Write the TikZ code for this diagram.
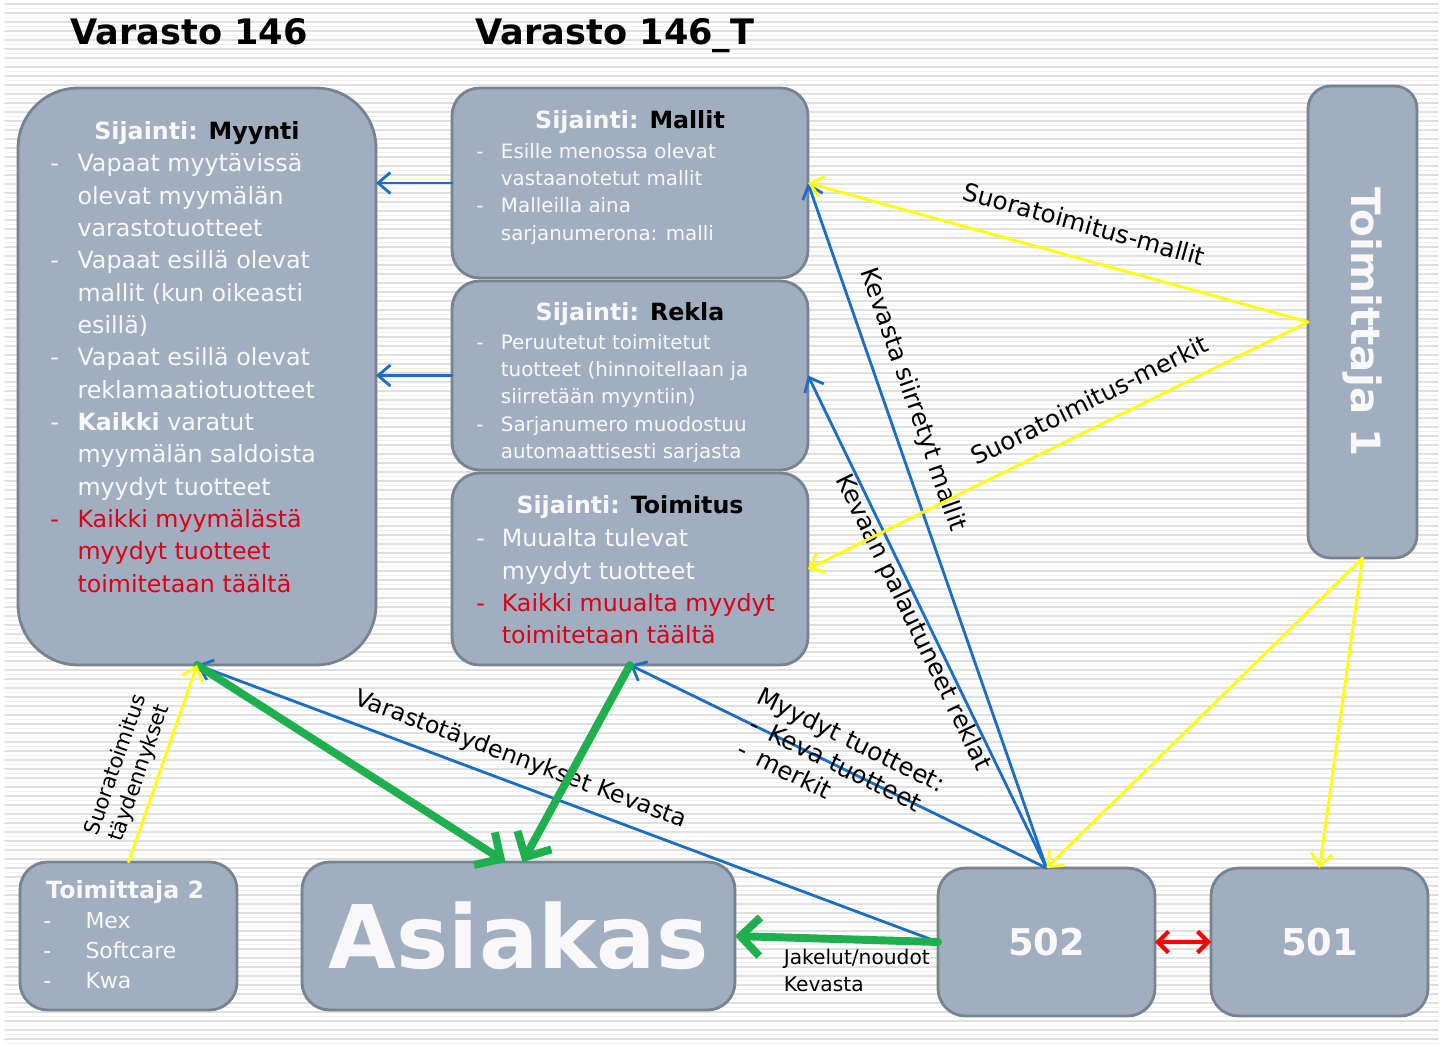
\documentclass[tikz,border=0pt]{standalone}
\usepackage{fontspec}
\setmainfont{DejaVu Sans}
\usetikzlibrary{arrows.meta,positioning}

\definecolor{boxfill}{RGB}{160,174,192}
\definecolor{boxline}{RGB}{120,131,144}
\definecolor{txtwhite}{RGB}{248,248,250}
\definecolor{txtred}{RGB}{222,0,24}
\definecolor{flowblue}{RGB}{28,110,196}
\definecolor{flowgreen}{RGB}{30,176,78}
\definecolor{flowyellow}{RGB}{255,255,0}
\definecolor{flowred}{RGB}{255,0,0}
\definecolor{stripedark}{RGB}{224,224,224}
\definecolor{stripelight}{RGB}{240,240,240}

% hanging dash for the lists in the boxes
\newcommand{\ldash}[1]{\makebox[#1][l]{-}}
\newcommand{\lgap}[1]{\hspace*{#1}}

\tikzset{
  box/.style={draw=boxline, fill=boxfill, line width=1.6pt, rounded corners=0.55cm,
    inner sep=0pt, outer sep=0pt, text=txtwhite},
  hdr/.style={text=txtwhite, font=\fontsize{13.5}{16}\selectfont\bfseries},
  bigtxt/.style={text=txtwhite, font=\fontsize{13.5}{18.4}\selectfont, align=left,
    inner sep=0pt, anchor=north west},
  smalltxt/.style={text=txtwhite, font=\fontsize{11.3}{15.5}\selectfont, align=left,
    inner sep=0pt, anchor=north west},
  lbl/.style={font=\fontsize{14}{16}\selectfont, inner sep=0pt, sloped},
  bluearrow/.style={draw=flowblue, line width=1.6pt, -{Straight Barb[length=7pt,width=12pt]}},
  greenarrow/.style={draw=flowgreen, line width=4.5pt, -{Straight Barb[length=11pt,width=22pt]}},
  yellowarrow/.style={draw=flowyellow, line width=1.6pt, -{Straight Barb[length=7pt,width=12pt]}},
  redarrow/.style={draw=flowred, line width=2.4pt,
    {Straight Barb[length=6pt,width=12pt]}-{Straight Barb[length=6pt,width=12pt]}},
}

\begin{document}
\begin{tikzpicture}[x=0.02cm,y=-0.02cm,line cap=round,line join=round]
\useasboundingbox (0,0) rectangle (1443,1045);

% striped background
\fill[white] (0,0) rectangle (1443,1045);
\foreach \s in {4,13,...,1040} {
  \draw[stripedark, line width=0.9pt] (5,\s) -- (1438,\s);
  \draw[stripelight, line width=0.7pt] (5,\s+4.5) -- (1438,\s+4.5);
}

% titles
\node[font=\fontsize{20}{24}\selectfont\bfseries, anchor=base] (vara) at (189,44) {Varasto 146};
\node[font=\fontsize{20}{24}\selectfont\bfseries, anchor=base] (varaT) at (615,44) {Varasto 146\_T};

% boxes
\node[box, rounded corners=1.2cm, minimum width=7.16cm, minimum height=11.54cm] (myynti) at (197,376.5) {};
\node[box, minimum width=7.12cm, minimum height=3.8cm] (mallit) at (630,183) {};
\node[box, minimum width=7.12cm, minimum height=3.78cm] (rekla) at (630,375.5) {};
\node[box, minimum width=7.12cm, minimum height=3.84cm] (toimitus) at (630,569) {};
\node[box, rounded corners=0.45cm, minimum width=2.18cm, minimum height=9.44cm] (toim1) at (1362.5,322) {};
\node[box, minimum width=4.34cm, minimum height=2.96cm] (toim2) at (128.5,936) {};
\node[box, minimum width=8.66cm, minimum height=2.96cm] (asiakas) at (518.5,936) {\fontsize{50}{60}\selectfont\bfseries Asiakas};
\node[box, minimum width=4.34cm, minimum height=2.96cm] (n502) at (1046.5,942) {\fontsize{21}{24}\selectfont\bfseries 502};
\node[box, minimum width=4.34cm, minimum height=2.96cm] (n501) at (1319.5,942) {\fontsize{21}{24}\selectfont\bfseries 501};

% box texts
\node[text=txtwhite, font=\fontsize{23}{26}\selectfont\bfseries, rotate=-90] (toim1T) at (toim1) {Toimittaja 1};

\node[hdr] (myyntiH) at (197,133) {Sijainti: \textcolor{black}{Myynti}};
\node[bigtxt] (myyntiB) at (50,153.5) {\ldash{15.5pt}Vapaat myytävissä\\
  \lgap{15.5pt}olevat myymälän\\
  \lgap{15.5pt}varastotuotteet\\
  \ldash{15.5pt}Vapaat esillä olevat\\
  \lgap{15.5pt}mallit (kun oikeasti\\
  \lgap{15.5pt}esillä)\\
  \ldash{15.5pt}Vapaat esillä olevat\\
  \lgap{15.5pt}reklamaatiotuotteet\\
  \ldash{15.5pt}\textbf{Kaikki} varatut\\
  \lgap{15.5pt}myymälän saldoista\\
  \lgap{15.5pt}myydyt tuotteet\\
  \textcolor{txtred}{\ldash{15.5pt}Kaikki myymälästä}\\
  \textcolor{txtred}{\lgap{15.5pt}myydyt tuotteet}\\
  \textcolor{txtred}{\lgap{15.5pt}toimitetaan täältä}};

\node[hdr] (mallitH) at (630,122) {Sijainti: \textcolor{black}{Mallit}};
\node[smalltxt] (mallitB) at (476,143) {\ldash{14pt}Esille menossa olevat\\
  \lgap{14pt}vastaanotetut mallit\\
  \ldash{14pt}Malleilla aina\\
  \lgap{14pt}sarjanumerona: malli};

\node[hdr] (reklaH) at (630,314) {Sijainti: \textcolor{black}{Rekla}};
\node[smalltxt] (reklaB) at (476,334) {\ldash{14pt}Peruutetut toimitetut\\
  \lgap{14pt}tuotteet (hinnoitellaan ja\\
  \lgap{14pt}siirretään myyntiin)\\
  \ldash{14pt}Sarjanumero muodostuu\\
  \lgap{14pt}automaattisesti sarjasta};

\node[hdr] (toimitusH) at (630,507) {Sijainti: \textcolor{black}{Toimitus}};
\node[bigtxt] (toimitusB) at (476,528.5) {\ldash{14.5pt}Muualta tulevat\\
  \lgap{14.5pt}myydyt tuotteet\\
  \textcolor{txtred}{\ldash{14.5pt}Kaikki muualta myydyt}\\
  \textcolor{txtred}{\lgap{14.5pt}toimitetaan täältä}};

\node[hdr, anchor=west] (toim2H) at (40,892) {Toimittaja 2};
\node[text=txtwhite, font=\fontsize{12.5}{17}\selectfont, align=left, inner sep=0pt, anchor=north west]
  (toim2B) at (43,912) {\ldash{24pt}Mex\\ \ldash{24pt}Softcare\\ \ldash{24pt}Kwa};

% blue flows
\draw[bluearrow] (mallit.west) -- (mallit.west -| myynti.east);
\draw[bluearrow] (rekla.west) -- (rekla.west -| myynti.east);
\draw[bluearrow] (n502.north) -- node[lbl, pos=0.67, above=8pt] {Kevasta siirretyt mallit} (mallit.east);
\draw[bluearrow] (n502.north) -- node[lbl, pos=0.51, below=0pt] {Kevaan palautuneet reklat} (rekla.east);
\draw[bluearrow] (n502.north) -- node[lbl, pos=0.5, above=-21pt, align=left]
  {Myydyt tuotteet:\\ \lgap{3pt}\ldash{12pt}Keva tuotteet\\ \lgap{3pt}\ldash{12pt}merkit} (toimitus.south);
\draw[bluearrow] (n502.west) -- node[lbl, pos=0.575, above=6.5pt, font=\fontsize{13.5}{16}\selectfont]
  {Varastotäydennykset Kevasta} (myynti.south);

% green flows
\draw[greenarrow] (myynti.south) -- ([xshift=-0.26cm]asiakas.north);
\draw[greenarrow] (toimitus.south) -- ([xshift=0.08cm]asiakas.north);
\draw[greenarrow] (n502.west) -- node[pos=0.4, below=3pt, font=\fontsize{11.5}{15.3}\selectfont,
  align=left, inner sep=0pt] {Jakelut/noudot\\Kevasta} (asiakas.east);

% yellow flows
\draw[yellowarrow] (toim1.west) -- node[lbl, pos=0.466, above=13.5pt] {Suoratoimitus-mallit} (mallit.east);
\draw[yellowarrow] (toim1.west) -- node[lbl, pos=0.413, above=9pt] {Suoratoimitus-merkit} (toimitus.east);
\draw[yellowarrow] (toim1.south) -- (n502.north);
\draw[yellowarrow] (toim1.south) -- (n501.north);
\draw[yellowarrow] (toim2.north) -- node[lbl, pos=0.42, above=4pt, align=center, font=\fontsize{12}{14}\selectfont]
  {Suoratoimitus\\täydennykset} (myynti.south);

% red link
\draw[redarrow] (n502.east) -- (n501.west);

\end{tikzpicture}
\end{document}
